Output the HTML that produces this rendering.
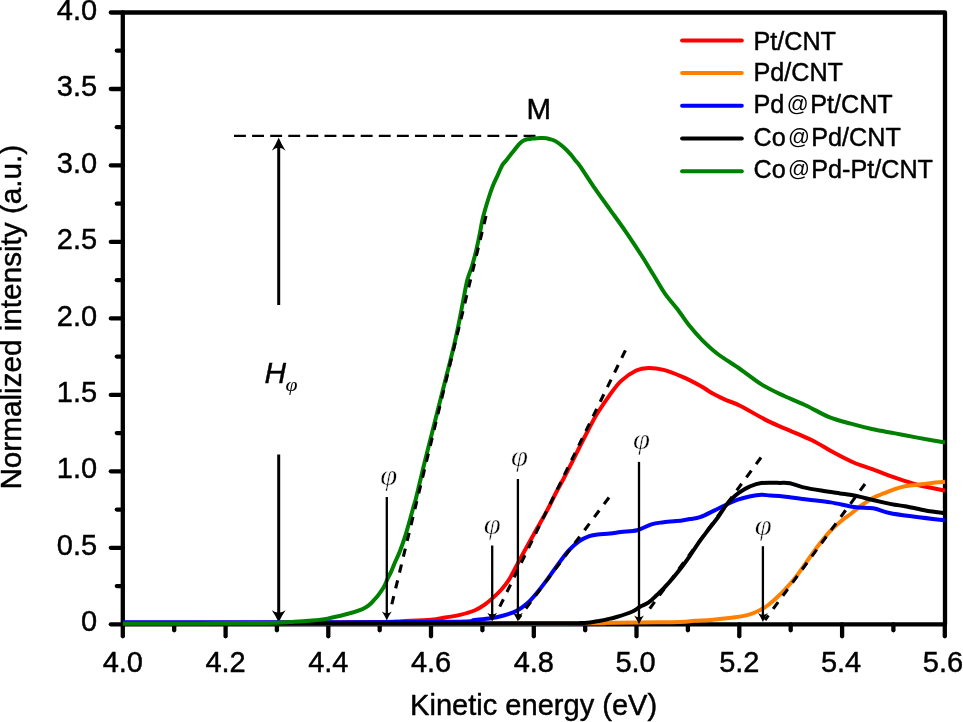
<!DOCTYPE html><html><head><meta charset="utf-8"><style>html,body{margin:0;padding:0;background:#fff;width:963px;height:722px;overflow:hidden}svg{display:block;will-change:transform} text{stroke:#000;stroke-width:0.45px;stroke-linejoin:round} text.n{stroke:none} text.p{stroke:#fff;stroke-width:0.45px}</style></head><body>
<svg width="963" height="722" viewBox="0 0 963 722">
<rect width="963" height="722" fill="#fff"/>
<g stroke="#000" stroke-width="4.3" fill="none" stroke-linecap="round" stroke-linejoin="round">
<path d="M122.8,624.3 L122.8,12.5 L945,12.5 L945,624.3 Z"/>
<line x1="110.8" y1="624.3" x2="122.8" y2="624.3"/>
<line x1="116.8" y1="586.1" x2="122.8" y2="586.1"/>
<line x1="110.8" y1="547.8" x2="122.8" y2="547.8"/>
<line x1="116.8" y1="509.6" x2="122.8" y2="509.6"/>
<line x1="110.8" y1="471.3" x2="122.8" y2="471.3"/>
<line x1="116.8" y1="433.1" x2="122.8" y2="433.1"/>
<line x1="110.8" y1="394.9" x2="122.8" y2="394.9"/>
<line x1="116.8" y1="356.6" x2="122.8" y2="356.6"/>
<line x1="110.8" y1="318.4" x2="122.8" y2="318.4"/>
<line x1="116.8" y1="280.2" x2="122.8" y2="280.2"/>
<line x1="110.8" y1="241.9" x2="122.8" y2="241.9"/>
<line x1="116.8" y1="203.7" x2="122.8" y2="203.7"/>
<line x1="110.8" y1="165.4" x2="122.8" y2="165.4"/>
<line x1="116.8" y1="127.2" x2="122.8" y2="127.2"/>
<line x1="110.8" y1="89.0" x2="122.8" y2="89.0"/>
<line x1="116.8" y1="50.7" x2="122.8" y2="50.7"/>
<line x1="110.8" y1="12.5" x2="122.8" y2="12.5"/>
<line x1="122.8" y1="624.3" x2="122.8" y2="636.3"/>
<line x1="174.2" y1="624.3" x2="174.2" y2="630.3"/>
<line x1="225.6" y1="624.3" x2="225.6" y2="636.3"/>
<line x1="276.9" y1="624.3" x2="276.9" y2="630.3"/>
<line x1="328.3" y1="624.3" x2="328.3" y2="636.3"/>
<line x1="379.7" y1="624.3" x2="379.7" y2="630.3"/>
<line x1="431.0" y1="624.3" x2="431.0" y2="636.3"/>
<line x1="482.4" y1="624.3" x2="482.4" y2="630.3"/>
<line x1="533.8" y1="624.3" x2="533.8" y2="636.3"/>
<line x1="585.2" y1="624.3" x2="585.2" y2="630.3"/>
<line x1="636.5" y1="624.3" x2="636.5" y2="636.3"/>
<line x1="687.9" y1="624.3" x2="687.9" y2="630.3"/>
<line x1="739.3" y1="624.3" x2="739.3" y2="636.3"/>
<line x1="790.7" y1="624.3" x2="790.7" y2="630.3"/>
<line x1="842.1" y1="624.3" x2="842.1" y2="636.3"/>
<line x1="893.4" y1="624.3" x2="893.4" y2="630.3"/>
<line x1="944.8" y1="624.3" x2="944.8" y2="636.3"/>
</g>
<text transform="translate(97.2,631.40) scale(1,1.0)" font-family='"Liberation Sans", sans-serif' font-size="29.0" text-anchor="end">0</text>
<text transform="translate(97.2,554.92) scale(1,1.0)" font-family='"Liberation Sans", sans-serif' font-size="29.0" text-anchor="end">0.5</text>
<text transform="translate(97.2,478.45) scale(1,1.0)" font-family='"Liberation Sans", sans-serif' font-size="29.0" text-anchor="end">1.0</text>
<text transform="translate(97.2,401.98) scale(1,1.0)" font-family='"Liberation Sans", sans-serif' font-size="29.0" text-anchor="end">1.5</text>
<text transform="translate(97.2,325.50) scale(1,1.0)" font-family='"Liberation Sans", sans-serif' font-size="29.0" text-anchor="end">2.0</text>
<text transform="translate(97.2,249.02) scale(1,1.0)" font-family='"Liberation Sans", sans-serif' font-size="29.0" text-anchor="end">2.5</text>
<text transform="translate(97.2,172.55) scale(1,1.0)" font-family='"Liberation Sans", sans-serif' font-size="29.0" text-anchor="end">3.0</text>
<text transform="translate(97.2,96.08) scale(1,1.0)" font-family='"Liberation Sans", sans-serif' font-size="29.0" text-anchor="end">3.5</text>
<text transform="translate(97.2,19.60) scale(1,1.0)" font-family='"Liberation Sans", sans-serif' font-size="29.0" text-anchor="end">4.0</text>
<text transform="translate(122.80,672.2) scale(1,1.0)" font-family='"Liberation Sans", sans-serif' font-size="29.0" text-anchor="middle">4.0</text>
<text transform="translate(225.55,672.2) scale(1,1.0)" font-family='"Liberation Sans", sans-serif' font-size="29.0" text-anchor="middle">4.2</text>
<text transform="translate(328.30,672.2) scale(1,1.0)" font-family='"Liberation Sans", sans-serif' font-size="29.0" text-anchor="middle">4.4</text>
<text transform="translate(431.05,672.2) scale(1,1.0)" font-family='"Liberation Sans", sans-serif' font-size="29.0" text-anchor="middle">4.6</text>
<text transform="translate(533.80,672.2) scale(1,1.0)" font-family='"Liberation Sans", sans-serif' font-size="29.0" text-anchor="middle">4.8</text>
<text transform="translate(635.55,672.2) scale(1,1.0)" font-family='"Liberation Sans", sans-serif' font-size="29.0" text-anchor="middle">5.0</text>
<text transform="translate(739.30,672.2) scale(1,1.0)" font-family='"Liberation Sans", sans-serif' font-size="29.0" text-anchor="middle">5.2</text>
<text transform="translate(841.05,672.2) scale(1,1.0)" font-family='"Liberation Sans", sans-serif' font-size="29.0" text-anchor="middle">5.4</text>
<text transform="translate(943.00,672.2) scale(1,1.0)" font-family='"Liberation Sans", sans-serif' font-size="29.0" text-anchor="middle">5.6</text>
<text transform="translate(533.6,715.2)" font-family='"Liberation Sans", sans-serif' font-size="29.05" text-anchor="middle">Kinetic energy (eV)</text>
<text transform="translate(21.4,317.2) rotate(-90) scale(1,1.02)" x="0" y="0" font-family='"Liberation Sans", sans-serif' font-size="29.7" text-anchor="middle">Normalized intensity (a.u.)</text>
<line x1="234" y1="135.9" x2="541" y2="135.9" stroke="#000" stroke-width="2.1" stroke-dasharray="11.9 6.2"/>
<text transform="translate(538.8,119.3) scale(1,1.03)" font-family='"Liberation Sans", sans-serif' font-size="29.5" text-anchor="middle">M</text>
<line x1="278.7" y1="142" x2="278.7" y2="305" stroke="#000" stroke-width="3"/>
<line x1="278.7" y1="454.5" x2="278.7" y2="616" stroke="#000" stroke-width="3"/>
<path d="M278.70,137.40 Q281.44,144.05 285.55,150.70 Q281.44,147.38 278.70,147.90 Q275.96,147.38 271.85,150.70 Q275.96,144.05 278.70,137.40 Z" fill="#000"/>
<path d="M278.70,622.40 Q281.44,616.35 285.55,610.30 Q281.44,612.90 278.70,612.40 Q275.96,612.90 271.85,610.30 Q275.96,616.35 278.70,622.40 Z" fill="#000"/>
<text x="264.6" y="382.7" font-family='"Liberation Sans", sans-serif' font-size="29.8" font-style="italic">H</text>
<text transform="translate(285.4,391.3) scale(1.06,0.97)" font-family='"Liberation Serif", serif' font-size="20.5" font-style="italic" class="n">φ</text>
<path d="M123.0,622.7 C135.8,622.7 170.5,622.7 200.0,622.7 C229.5,622.7 270.0,622.7 300.0,622.6 C330.0,622.5 363.0,622.2 380.0,622.0 C397.0,621.8 393.3,621.6 401.8,621.2 C410.3,620.8 423.6,620.4 430.9,619.8 C438.2,619.2 440.5,618.3 445.4,617.5 C450.2,616.7 455.1,616.1 460.0,614.9 C464.9,613.7 470.4,612.2 474.5,610.5 C478.6,608.8 481.6,606.9 484.7,604.7 C487.8,602.5 490.5,600.1 493.4,597.4 C496.3,594.7 499.4,591.8 502.1,588.7 C504.8,585.6 507.0,582.9 509.4,579.0 C511.8,575.1 513.7,571.0 516.6,565.6 C519.5,560.2 523.5,552.8 527.0,546.5 C530.5,540.2 533.9,534.0 537.4,527.8 C540.9,521.6 544.7,515.0 547.8,509.1 C550.9,503.2 553.5,497.5 556.1,492.5 C558.7,487.5 560.7,484.1 563.4,479.0 C566.1,473.9 568.7,468.8 572.2,461.9 C575.7,455.0 580.3,445.4 584.4,437.5 C588.5,429.6 592.5,421.5 596.6,414.6 C600.7,407.8 604.8,402.0 608.8,396.4 C612.8,390.8 616.3,385.4 620.9,381.1 C625.5,376.8 631.6,372.7 636.2,370.5 C640.8,368.3 643.8,368.1 648.4,368.0 C653.0,367.9 658.0,368.5 663.6,369.9 C669.2,371.3 675.8,374.0 681.9,376.6 C688.0,379.2 695.1,382.9 700.2,385.7 C705.3,388.5 708.2,391.0 712.3,393.3 C716.3,395.6 719.9,397.3 724.5,399.4 C729.1,401.5 732.8,402.1 740.0,405.7 C747.2,409.3 759.4,416.8 767.7,420.9 C776.0,425.0 782.5,427.4 789.9,430.6 C797.3,433.8 804.6,436.6 812.0,440.3 C819.4,444.0 827.3,449.1 834.2,452.8 C841.1,456.5 847.1,459.7 853.6,462.5 C860.1,465.3 866.1,466.9 873.0,469.4 C879.9,471.9 887.7,475.1 895.1,477.7 C902.5,480.2 909.0,482.5 917.3,484.7 C925.6,486.9 940.4,489.7 945.0,490.7" fill="none" stroke="#ff0000" stroke-width="4.0" stroke-linejoin="round" stroke-linecap="butt"/>
<path d="M123.0,623.4 C195.8,623.4 480.5,623.5 560.0,623.4 C639.5,623.3 587.1,623.2 600.0,623.0 C612.9,622.8 623.8,622.5 637.1,622.4 C650.4,622.2 670.5,622.4 680.0,622.1 C689.5,621.8 689.1,621.2 694.2,620.8 C699.3,620.4 704.6,620.4 710.8,619.9 C717.0,619.4 725.3,618.6 731.5,617.8 C737.7,617.0 743.4,616.2 748.2,614.9 C753.1,613.5 757.2,611.4 760.6,609.7 C764.0,608.0 766.0,606.8 768.9,604.5 C771.8,602.2 775.9,598.5 778.3,596.2 C780.7,594.0 780.7,594.1 783.5,591.0 C786.3,587.9 791.4,582.7 795.3,577.7 C799.2,572.7 803.2,566.7 807.1,561.2 C811.0,555.7 815.0,549.9 818.9,544.8 C822.8,539.7 826.7,534.7 830.6,530.6 C834.5,526.5 839.2,522.7 842.4,520.0 C845.6,517.3 847.0,516.8 850.0,514.5 C853.0,512.2 856.6,509.0 860.4,506.2 C864.2,503.4 868.8,500.1 872.8,497.9 C876.8,495.7 880.6,494.7 884.3,493.2 C887.9,491.7 891.2,490.3 894.7,489.1 C898.2,487.9 901.2,486.9 905.0,486.2 C908.8,485.5 913.7,485.3 917.5,484.8 C921.3,484.3 923.3,483.9 927.9,483.4 C932.5,482.9 942.1,482.1 945.0,481.8" fill="none" stroke="#ff8000" stroke-width="4.0" stroke-linejoin="round" stroke-linecap="butt"/>
<path d="M123.0,622.3 C152.5,622.3 245.1,622.3 300.0,622.2 C354.9,622.1 423.6,622.1 452.7,621.7 C481.8,621.3 468.4,620.5 474.5,620.0 C480.6,619.5 484.1,619.2 489.0,618.5 C493.9,617.8 499.0,616.8 503.6,615.5 C508.2,614.2 512.7,612.9 516.6,610.9 C520.5,608.9 523.5,606.7 527.0,603.6 C530.5,600.5 533.9,596.4 537.4,592.2 C540.9,588.1 544.3,583.4 547.8,578.7 C551.3,574.0 554.7,568.8 558.2,564.1 C561.7,559.4 565.1,554.4 568.6,550.6 C572.1,546.8 575.5,543.7 579.0,541.3 C582.5,538.9 586.2,537.2 589.3,536.1 C592.4,535.0 594.2,534.8 597.7,534.4 C601.2,534.0 606.2,534.0 610.1,533.6 C614.0,533.2 616.4,532.6 620.9,532.0 C625.4,531.4 632.0,531.5 637.1,530.2 C642.2,528.9 647.0,525.6 651.4,524.3 C655.8,523.0 658.5,522.9 663.6,522.2 C668.7,521.6 677.5,520.9 681.9,520.4 C686.3,519.9 687.0,519.5 690.0,519.0 C693.0,518.5 696.1,518.6 700.0,517.2 C703.9,515.9 709.0,513.1 713.5,510.9 C718.0,508.7 723.0,506.1 727.0,504.2 C731.0,502.3 734.0,501.0 737.8,499.7 C741.5,498.4 745.6,497.3 749.5,496.5 C753.4,495.7 757.8,494.8 761.2,494.7 C764.7,494.6 766.5,495.3 770.2,495.6 C773.9,495.9 777.4,495.7 783.5,496.4 C789.6,497.1 799.2,498.6 807.1,499.6 C815.0,500.6 822.8,501.1 830.6,502.4 C838.5,503.6 847.1,506.1 854.2,507.1 C861.3,508.1 867.1,507.3 873.0,508.3 C878.9,509.3 882.8,511.6 889.5,513.0 C896.2,514.4 903.8,515.3 913.0,516.5 C922.2,517.7 939.7,519.7 945.0,520.3" fill="none" stroke="#0000ff" stroke-width="4.0" stroke-linejoin="round" stroke-linecap="butt"/>
<path d="M123.0,623.4 C169.2,623.4 325.5,623.4 400.0,623.4 C474.5,623.4 540.0,623.3 570.0,623.3 C600.0,623.2 576.7,623.2 580.0,623.1 C583.3,623.0 587.0,622.7 590.0,622.4 C593.0,622.1 595.5,621.6 598.3,621.1 C601.1,620.6 604.0,620.1 607.0,619.4 C610.0,618.7 612.4,618.3 616.6,617.0 C620.9,615.7 628.6,613.2 632.5,611.5 C636.4,609.8 637.4,608.2 640.0,606.7 C642.6,605.2 645.5,604.5 648.3,602.6 C651.1,600.7 653.8,597.9 656.6,595.3 C659.4,592.7 662.1,589.9 664.9,587.0 C667.7,584.1 670.4,581.0 673.2,577.7 C676.0,574.4 678.8,570.9 681.6,567.3 C684.4,563.6 687.1,559.8 689.9,555.8 C692.7,551.8 695.2,547.7 698.2,543.4 C701.2,539.1 704.8,534.4 708.1,530.0 C711.4,525.6 715.1,521.1 718.0,517.2 C720.9,513.3 723.0,509.4 725.2,506.4 C727.5,503.4 729.2,501.4 731.5,499.2 C733.8,496.9 735.7,495.0 738.7,492.9 C741.7,490.8 745.8,488.2 749.5,486.6 C753.2,485.0 756.1,483.6 761.2,483.0 C766.3,482.4 775.2,482.8 780.0,482.9 C784.8,482.9 786.2,482.6 789.9,483.3 C793.6,484.0 797.2,485.9 802.4,487.1 C807.6,488.3 814.9,489.6 821.2,490.6 C827.5,491.7 835.2,492.7 840.0,493.4 C844.8,494.1 846.6,494.2 850.0,494.8 C853.4,495.4 856.6,496.0 860.4,496.9 C864.2,497.8 868.8,499.1 872.8,500.0 C876.8,500.9 880.6,501.8 884.3,502.6 C887.9,503.4 891.2,504.1 894.7,504.7 C898.2,505.3 901.2,505.5 905.0,506.2 C908.8,506.9 913.7,508.0 917.5,508.8 C921.3,509.6 923.3,510.2 927.9,510.9 C932.5,511.6 942.1,512.7 945.0,513.1" fill="none" stroke="#000000" stroke-width="4.0" stroke-linejoin="round" stroke-linecap="butt"/>
<path d="M123.0,623.5 C135.8,623.5 176.3,623.5 200.0,623.4 C223.7,623.3 250.0,623.2 265.0,623.0 C280.0,622.8 282.7,622.4 290.0,622.0 C297.3,621.6 302.5,621.4 308.7,620.8 C314.9,620.2 321.2,619.7 327.4,618.6 C333.6,617.5 340.4,615.8 346.1,614.3 C351.9,612.8 358.1,610.8 361.9,609.3 C365.7,607.8 366.8,606.8 368.9,605.2 C371.0,603.6 372.8,601.3 374.4,599.6 C376.0,597.9 377.2,596.4 378.5,594.8 C379.8,593.2 380.9,591.5 382.0,589.9 C383.1,588.3 383.9,586.9 384.8,585.1 C385.7,583.3 386.5,581.1 387.5,578.9 C388.5,576.7 389.9,574.4 391.0,571.9 C392.1,569.4 392.9,567.2 394.4,563.7 C395.9,560.2 398.2,555.6 399.9,551.2 C401.6,546.8 403.3,542.0 404.8,537.4 C406.3,532.8 407.5,528.4 408.9,523.5 C410.3,518.6 412.0,512.4 413.1,508.3 C414.2,504.2 414.6,503.7 415.8,499.0 C417.0,494.3 418.8,486.5 420.4,480.0 C422.0,473.5 422.7,470.0 425.2,460.0 C427.7,450.0 431.9,433.3 435.3,420.0 C438.7,406.7 442.9,390.0 445.4,380.0 C447.9,370.0 448.9,366.7 450.5,360.0 C452.1,353.3 453.8,346.7 455.3,340.0 C456.8,333.3 458.2,326.7 459.5,320.0 C460.8,313.3 462.0,306.7 463.3,300.0 C464.6,293.3 465.9,285.6 467.3,280.0 C468.7,274.4 470.4,271.5 471.9,266.5 C473.4,261.5 475.0,255.6 476.3,250.0 C477.6,244.4 478.8,238.8 479.9,233.2 C481.0,227.6 481.8,222.1 483.2,216.6 C484.6,211.1 486.4,205.2 488.0,200.0 C489.6,194.8 491.3,189.7 492.9,185.7 C494.5,181.7 495.8,179.2 497.4,175.8 C499.0,172.4 500.9,167.6 502.4,165.0 C503.9,162.4 505.0,162.1 506.6,160.0 C508.2,157.9 510.4,155.0 512.3,152.6 C514.2,150.2 516.2,147.4 518.1,145.3 C520.0,143.2 521.2,141.5 523.9,140.3 C526.6,139.2 531.0,138.8 534.1,138.4 C537.2,138.0 540.1,138.0 542.8,138.1 C545.5,138.2 547.9,138.6 550.1,139.2 C552.3,139.8 553.7,140.1 555.9,141.4 C558.1,142.7 560.7,144.7 563.1,146.8 C565.5,148.9 568.4,151.9 570.4,154.1 C572.4,156.3 573.4,157.9 575.0,159.9 C576.6,161.9 576.6,161.3 580.0,166.1 C583.4,170.9 590.1,181.5 595.2,188.9 C600.3,196.3 605.4,203.2 610.5,210.3 C615.6,217.4 620.6,224.2 625.7,231.6 C630.8,239.0 636.3,247.4 640.9,254.5 C645.5,261.6 649.0,267.7 653.1,274.3 C657.2,280.9 661.2,288.3 665.3,294.1 C669.4,299.9 673.4,304.0 677.5,309.3 C681.6,314.6 685.6,321.0 689.7,326.1 C693.8,331.2 697.3,335.2 701.9,339.8 C706.5,344.4 710.8,348.6 717.1,353.5 C723.5,358.4 732.5,363.8 740.0,369.0 C747.5,374.2 754.8,380.4 762.2,384.9 C769.6,389.4 776.9,392.5 784.3,396.0 C791.7,399.5 799.1,402.2 806.5,405.7 C813.9,409.2 821.2,413.8 828.6,416.8 C836.0,419.8 843.4,421.6 850.8,423.7 C858.2,425.8 865.6,427.7 873.0,429.3 C880.4,430.9 887.7,432.0 895.1,433.4 C902.5,434.8 909.0,436.1 917.3,437.6 C925.6,439.1 940.4,441.7 945.0,442.5" fill="none" stroke="#008000" stroke-width="4.0" stroke-linejoin="round" stroke-linecap="butt"/>
<line x1="486" y1="216" x2="391.4" y2="606" stroke="#000" stroke-width="3.1" stroke-dasharray="8.3 8"/>
<line x1="625.4" y1="350.4" x2="498.6" y2="609" stroke="#000" stroke-width="3.1" stroke-dasharray="8.3 8"/>
<line x1="609" y1="497.5" x2="518" y2="619" stroke="#000" stroke-width="3.1" stroke-dasharray="8.3 8"/>
<line x1="761" y1="457.5" x2="648.3" y2="610.5" stroke="#000" stroke-width="3.1" stroke-dasharray="8.3 8"/>
<line x1="865" y1="484" x2="765" y2="620" stroke="#000" stroke-width="3.1" stroke-dasharray="8.3 8"/>
<text transform="translate(388.7,484.9) scale(1.08,1)" font-family='"Liberation Serif", serif' font-size="28.5" font-style="italic" text-anchor="middle" class="p">φ</text>
<line x1="386.8" y1="497" x2="386.8" y2="615.4" stroke="#000" stroke-width="2.3"/>
<path d="M386.80,620.40 Q388.76,616.00 391.70,611.60 Q388.76,613.56 386.80,613.20 Q384.84,613.56 381.90,611.60 Q384.84,616.00 386.80,620.40 Z" fill="#000"/>
<text transform="translate(492.2,534.0) scale(1.08,1)" font-family='"Liberation Serif", serif' font-size="28.5" font-style="italic" text-anchor="middle" class="p">φ</text>
<line x1="492.2" y1="545.5" x2="492.2" y2="616.5" stroke="#000" stroke-width="2.3"/>
<path d="M492.20,621.50 Q494.16,617.10 497.10,612.70 Q494.16,614.66 492.20,614.30 Q490.24,614.66 487.30,612.70 Q490.24,617.10 492.20,621.50 Z" fill="#000"/>
<text transform="translate(519.5,465.8) scale(1.08,1)" font-family='"Liberation Serif", serif' font-size="28.5" font-style="italic" text-anchor="middle" class="p">φ</text>
<line x1="517.9" y1="479" x2="517.9" y2="616.5" stroke="#000" stroke-width="2.3"/>
<path d="M517.90,621.50 Q519.86,617.10 522.80,612.70 Q519.86,614.66 517.90,614.30 Q515.94,614.66 513.00,612.70 Q515.94,617.10 517.90,621.50 Z" fill="#000"/>
<text transform="translate(641.5,448.7) scale(1.08,1)" font-family='"Liberation Serif", serif' font-size="28.5" font-style="italic" text-anchor="middle" class="p">φ</text>
<line x1="639.0" y1="461.9" x2="639.0" y2="619.3" stroke="#000" stroke-width="2.3"/>
<path d="M639.00,624.30 Q640.96,619.90 643.90,615.50 Q640.96,617.46 639.00,617.10 Q637.04,617.46 634.10,615.50 Q637.04,619.90 639.00,624.30 Z" fill="#000"/>
<text transform="translate(763.3,535.3) scale(1.08,1)" font-family='"Liberation Serif", serif' font-size="28.5" font-style="italic" text-anchor="middle" class="p">φ</text>
<line x1="762.9" y1="546.2" x2="762.9" y2="616.9" stroke="#000" stroke-width="2.3"/>
<path d="M762.90,621.90 Q764.86,617.50 767.80,613.10 Q764.86,615.06 762.90,614.70 Q760.94,615.06 758.00,613.10 Q760.94,617.50 762.90,621.90 Z" fill="#000"/>
<line x1="682.1" y1="40.4" x2="741.8" y2="40.4" stroke="#ff0000" stroke-width="4" stroke-linecap="round"/>
<line x1="682.1" y1="73.1" x2="741.8" y2="73.1" stroke="#ff8000" stroke-width="4" stroke-linecap="round"/>
<line x1="682.1" y1="105.8" x2="741.8" y2="105.8" stroke="#0000ff" stroke-width="4" stroke-linecap="round"/>
<line x1="682.1" y1="138.5" x2="741.8" y2="138.5" stroke="#000000" stroke-width="4" stroke-linecap="round"/>
<line x1="682.1" y1="171.2" x2="741.8" y2="171.2" stroke="#008000" stroke-width="4" stroke-linecap="round"/>
<text transform="translate(753.40,49.80) scale(1,1.0)" font-family='"Liberation Sans", sans-serif' font-size="25.2">Pt/CNT</text>
<text transform="translate(753.40,81.40) scale(1,1.0)" font-family='"Liberation Sans", sans-serif' font-size="25.2">Pd/CNT</text>
<text transform="translate(753.40,113.40) scale(1,1.0)" font-family='"Liberation Sans", sans-serif' font-size="25.2">Pd</text>
<text transform="translate(786.70,111.00) scale(1,1.0)" font-family='"Liberation Sans", sans-serif' font-size="21.6" class="n">@</text>
<text transform="translate(810.20,113.40) scale(1,1.0)" font-family='"Liberation Sans", sans-serif' font-size="25.2">Pt/CNT</text>
<text transform="translate(753.60,146.00) scale(1,1.0)" font-family='"Liberation Sans", sans-serif' font-size="25.2">Co</text>
<text transform="translate(788.00,143.60) scale(1,1.0)" font-family='"Liberation Sans", sans-serif' font-size="21.6" class="n">@</text>
<text transform="translate(811.20,146.00) scale(1,1.0)" font-family='"Liberation Sans", sans-serif' font-size="25.2">Pd/CNT</text>
<text transform="translate(753.60,178.30) scale(1,1.0)" font-family='"Liberation Sans", sans-serif' font-size="25.2">Co</text>
<text transform="translate(788.00,175.90) scale(1,1.0)" font-family='"Liberation Sans", sans-serif' font-size="21.6" class="n">@</text>
<text transform="translate(811.20,178.30) scale(1,1.0)" font-family='"Liberation Sans", sans-serif' font-size="25.2">Pd-Pt/CNT</text>
</svg></body></html>
